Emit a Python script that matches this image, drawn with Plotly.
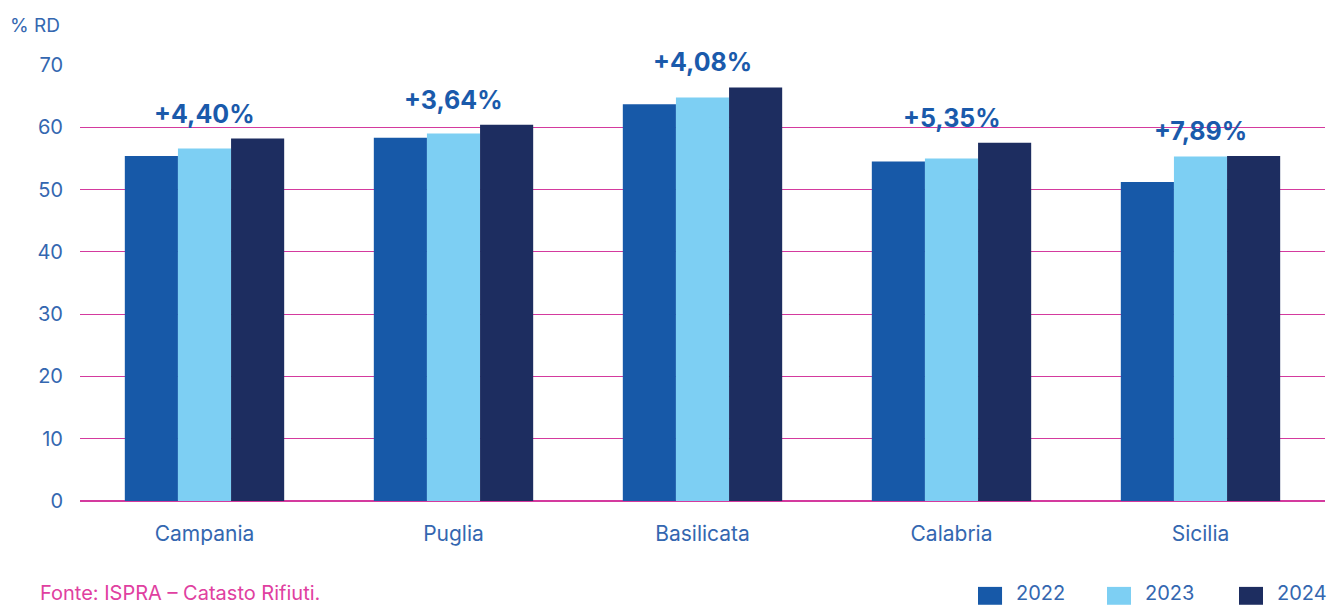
import plotly.graph_objects as go

regions = ["Campania", "Puglia", "Basilicata", "Calabria", "Sicilia"]
years = ["2022", "2023", "2024"]
values_2022 = [55.4, 58.3, 63.7, 54.5, 51.2]
values_2023 = [56.6, 59.0, 64.8, 55.0, 55.3]
values_2024 = [58.2, 60.4, 66.4, 57.5, 55.4]
growth_labels = ["+4,40%", "+3,64%", "+4,08%", "+5,35%", "+7,89%"]
y_ticks = [0, 10, 20, 30, 40, 50, 60, 70]

series = [values_2022, values_2023, values_2024]
colors = ["#1759A8", "#7DCFF3", "#1D2D60"]

TICK_COLOR = "#3467B0"
GRID_COLOR = "#D43A9E"
FONT = "Inter"

fig = go.Figure()
for name, vals, col in zip(years, series, colors):
    fig.add_trace(go.Bar(
        x=regions, y=vals, name=name, marker=dict(color=col, line=dict(width=0)),
        hoverinfo="skip", showlegend=False,
    ))

for reg, lab, a, b, c in zip(regions, growth_labels, values_2022, values_2023, values_2024):
    fig.add_annotation(
        x=reg, y=max(a, b, c), text=lab, showarrow=False,
        yanchor="bottom", yshift=8,
        font=dict(family=FONT, size=25, color="#1A5AAB", weight="bold"),
    )

# axis unit title
fig.add_annotation(
    xref="paper", yref="paper", x=-0.0145, y=1.0, yshift=40,
    xanchor="right", yanchor="middle", text="% RD", showarrow=False,
    font=dict(family=FONT, size=19, color=TICK_COLOR),
)
# source note
fig.add_annotation(
    xref="paper", yref="paper", x=-0.0337, y=0, yshift=-92,
    xanchor="left", yanchor="middle", text="Fonte: ISPRA – Catasto Rifiuti.",
    showarrow=False, font=dict(family=FONT, size=20, color="#E040A0"),
)

# custom legend (swatches + labels)
legend_x0 = [0.7213, 0.8249, 0.9309]
sw_w = 0.0193
for yr, col, x0 in zip(years, colors, legend_x0):
    fig.add_shape(type="rect", xref="paper", yref="paper",
                  x0=x0, x1=x0 + sw_w, y0=-0.197, y1=-0.238,
                  fillcolor=col, line=dict(width=0))
    fig.add_annotation(xref="paper", yref="paper", x=x0 + sw_w + 0.0095, y=-0.212,
                       xanchor="left", yanchor="middle", text=yr, showarrow=False,
                       font=dict(family=FONT, size=20, color=TICK_COLOR))

fig.update_layout(
    width=1327, height=605,
    margin=dict(l=80, r=2, t=65, b=104),
    paper_bgcolor="white", plot_bgcolor="white",
    barmode="group", bargap=0.36, bargroupgap=0,
    font=dict(family=FONT, size=18, color=TICK_COLOR),
    showlegend=False,
)
fig.update_xaxes(
    showgrid=False, showline=False, zeroline=False, ticks="",
    ticklabelstandoff=18,
    tickfont=dict(family=FONT, size=21, color=TICK_COLOR),
)
fig.update_yaxes(
    range=[0, 70], tickvals=y_ticks, showgrid=True, gridcolor=GRID_COLOR, gridwidth=1,
    zeroline=True, zerolinecolor=GRID_COLOR, zerolinewidth=1.5, showline=False,
    ticks="", ticklabelstandoff=16,
    tickfont=dict(family=FONT, size=20, color=TICK_COLOR),
)

fig.write_html("out.html", config={"displayModeBar": False},
               post_script="document.body.style.margin='0px';")
